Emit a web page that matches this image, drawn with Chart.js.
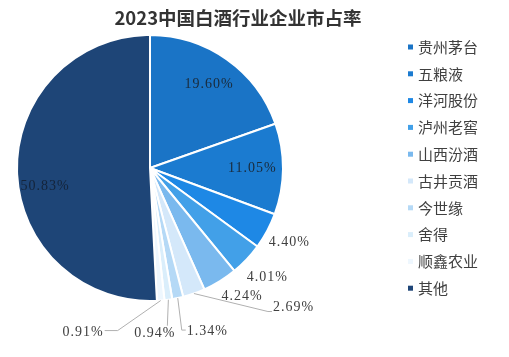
<!DOCTYPE html>
<html>
<head>
<meta charset="utf-8">
<script src="https://cdn.jsdelivr.net/npm/chart.js@4/dist/chart.umd.min.js"></script>
<style>
html,body{margin:0;padding:0;background:#fff;}
#wrap{width:509px;height:357px;position:relative;}
</style>
</head>
<body>
<div id="wrap"><canvas id="c" width="509" height="357"></canvas></div>
<script>
const titleText = '2023中国白酒行业企业市占率';
const categories = ['贵州茅台','五粮液','洋河股份','泸州老窖','山西汾酒','古井贡酒','今世缘','舍得','顺鑫农业','其他'];
const shares = [19.60, 11.05, 4.40, 4.01, 4.24, 2.69, 1.34, 0.94, 0.91, 50.83];
const valueLabels = ['19.60%','11.05%','4.40%','4.01%','4.24%','2.69%','1.34%','0.94%','0.91%','50.83%'];
const colors = ['#1a74c6','#1b7bd0','#1e88e5','#42a0e8','#7ab9ee','#d4e8fa','#b5d9f6','#daeefb','#eef7fe','#1e4577'];

// label placement style per slice (annotation styling only)
const labelMode = ['in','in','out','out','out','lead','lead','lead','lead','in'];
const outNudge = {2:[2,0], 3:[4,2], 4:[10,-4]};
const leaders = {
  5: {elbow:[74,18], len:4, align:'left', dy:-4},
  6: {elbow:[4,32], len:4, align:'left', dy:1},
  7: {elbow:[-1,26], len:0, align:'right', dy:8, dx:9},
  8: {elbow:[-43,30], len:-13, align:'right', dy:2}
};

const labelFont = '14px "Liberation Serif", "DejaVu Serif", serif';

const labelPlugin = {
  id: 'sliceLabels',
  afterDatasetsDraw(chart) {
    const ctx = chart.ctx;
    const meta = chart.getDatasetMeta(0);
    ctx.save();
    ctx.font = labelFont;
    ctx.letterSpacing = '1px';
    ctx.textBaseline = 'middle';
    meta.data.forEach((arc, i) => {
      const p = arc.getProps(['x','y','startAngle','endAngle','outerRadius'], true);
      const mid = (p.startAngle + p.endAngle) / 2;
      const r = p.outerRadius;
      const cx = Math.cos(mid), sy = Math.sin(mid);
      const mode = labelMode[i];
      if (mode === 'in') {
        const d = i === 9 ? 0.79 * r : 0.77 * r;
        ctx.fillStyle = i === 9 ? '#14243a' : '#1a2a3a';
        ctx.textAlign = 'center';
        ctx.fillText(valueLabels[i], p.x + cx * d, p.y + sy * d + (i === 9 ? 16 : 0));
      } else if (mode === 'out') {
        const d = r + 23;
        const n = outNudge[i] || [0,0];
        ctx.fillStyle = '#404040';
        ctx.textAlign = 'center';
        ctx.fillText(valueLabels[i], p.x + cx * d + n[0], p.y + sy * d + n[1]);
      } else {
        const L = leaders[i];
        const ex = p.x + cx * r, ey = p.y + sy * r;
        const bx = ex + L.elbow[0], by = ey + L.elbow[1];
        const fx = bx + L.len;
        ctx.strokeStyle = '#b0b0b0';
        ctx.lineWidth = 1;
        ctx.beginPath();
        ctx.moveTo(ex, ey);
        ctx.lineTo(bx, by);
        ctx.lineTo(fx, by);
        ctx.stroke();
        ctx.fillStyle = '#404040';
        ctx.textAlign = L.align;
        const tx = L.align === 'left' ? fx + 1 : fx - 1 + (L.dx || 0);
        ctx.fillText(valueLabels[i], tx, by + L.dy);
      }
    });
    ctx.restore();
  }
};

const legendPlugin = {
  id: 'sideLegend',
  afterDraw(chart) {
    const ctx = chart.ctx;
    ctx.save();
    // title
    ctx.font = 'bold 18.5px "Noto Sans CJK SC", sans-serif';
    ctx.fillStyle = '#333333';
    ctx.textAlign = 'center';
    ctx.textBaseline = 'middle';
    ctx.fillText(titleText, 238, 18);
    // legend
    ctx.font = '15px "Noto Sans CJK SC", sans-serif';
    ctx.textAlign = 'left';
    const x0 = 408, y0 = 47, step = 26.8;
    chart.data.labels.forEach((lab, i) => {
      const y = y0 + i * step;
      ctx.fillStyle = colors[i];
      ctx.fillRect(x0, y - 2.5, 5, 5);
      ctx.fillStyle = '#404040';
      ctx.fillText(lab, x0 + 10, y);
    });
    ctx.restore();
  }
};

new Chart(document.getElementById('c'), {
  type: 'pie',
  data: {
    labels: categories,
    datasets: [{
      data: shares,
      backgroundColor: colors,
      borderColor: '#ffffff',
      borderWidth: 2
    }]
  },
  options: {
    responsive: false,
    animation: false,
    layout: { padding: { left: 16, right: 225, top: 34, bottom: 55 } },
    plugins: {
      legend: { display: false },
      tooltip: { enabled: false },
      title: { display: false }
    }
  },
  plugins: [labelPlugin, legendPlugin]
});
</script>
</body>
</html>
